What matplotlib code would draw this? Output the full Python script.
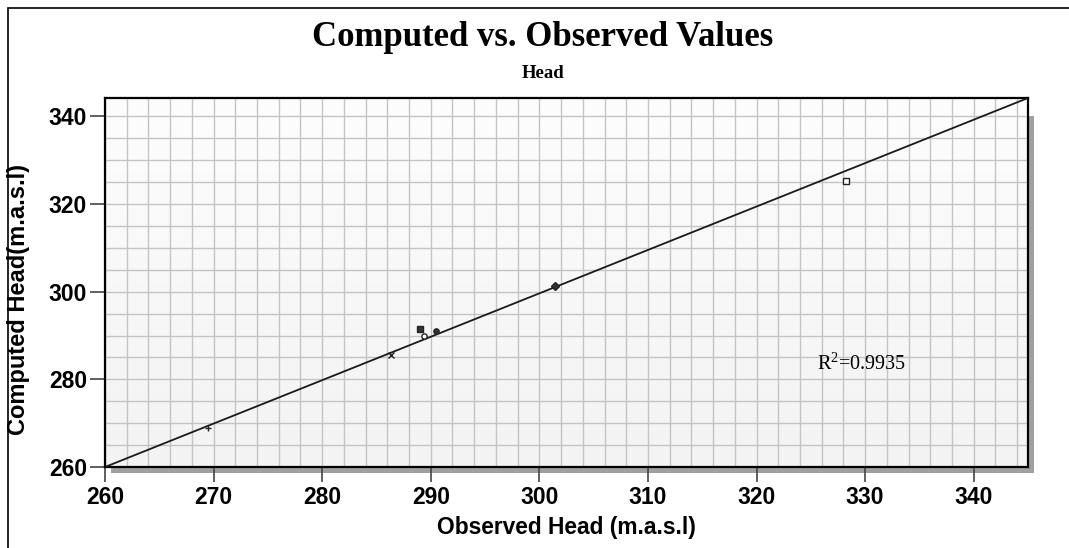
import numpy as np
import matplotlib
matplotlib.use("Agg")
import matplotlib.pyplot as plt
from matplotlib.patches import Rectangle

# observed vs computed heads (m.a.s.l)
observed = [269.5, 286.3, 289.4, 289.0, 290.5, 301.4, 328.2]
computed = [269.0, 285.6, 289.8, 291.4, 291.1, 301.2, 325.2]
markers = ["+", "x", "o", "s", "o", "D", "s"]
filled = [True, True, False, True, True, True, False]
r2 = 0.9935

xmin, xmax = 260, 345
ymin, ymax = 260, 344.2

plt.rcParams["mathtext.fontset"] = "custom"
plt.rcParams["mathtext.rm"] = "Liberation Serif"

fig = plt.figure(figsize=(10.69, 5.48), dpi=100)
fig.patch.set_facecolor("white")

# outer frame
fig.add_artist(Rectangle((8/1069, -0.01), 1.05, 1 - 8/548 + 0.01, transform=fig.transFigure,
                         fill=False, edgecolor="black", linewidth=1.2))

l, r = 105/1069, 1028/1069
b, t = 1 - 467/548, 1 - 98/548
ax = fig.add_axes([l, b, r - l, t - b])

# drop shadow
sx, sy = 6/1069, 6/548
fig.add_artist(Rectangle((l + sx, b - sy), r - l, t - b - 2*sy, transform=fig.transFigure,
                         facecolor="#a0a0a0", edgecolor="none", zorder=0))

# light gradient background
grad = np.linspace(0, 1, 256).reshape(-1, 1)
ax.imshow(grad, extent=[xmin, xmax, ymin, ymax], aspect="auto",
          cmap=matplotlib.colors.LinearSegmentedColormap.from_list("g", ["#f3f3f3", "#fdfdfd"]),
          origin="lower", zorder=0)

ax.set_xlim(xmin, xmax)
ax.set_ylim(ymin, ymax)
ax.set_xticks(np.arange(260, 341, 10))
ax.set_yticks(np.arange(260, 341, 20))
ax.set_xticks(np.arange(260, 346, 2), minor=True)
ax.set_yticks(np.arange(260, 345, 5), minor=True)
ax.grid(which="both", color="#c4c4c4", linewidth=1, zorder=1)
ax.set_axisbelow(True)
ax.tick_params(which="minor", length=0)
ax.tick_params(which="major", length=11, width=1.2, color="#444444")
ax.tick_params(axis="x", which="major", pad=3)
ax.tick_params(axis="y", which="major", pad=2)
for lab in ax.get_xticklabels() + ax.get_yticklabels():
    lab.set_fontfamily("Liberation Sans")
    lab.set_fontweight("bold")
    lab.set_fontsize(16.5)
for s in ax.spines.values():
    s.set_linewidth(1.6)

# fit line across the plot
ax.plot([xmin, xmax], [ymin, ymax], color="#1a1a1a", linewidth=1.3, zorder=3)

for xo, yc, m, f in zip(observed, computed, markers, filled):
    ax.plot(xo, yc, marker=m, markersize=3.8 if m not in ("+", "x") else 5,
            markerfacecolor="#333333" if f else "white", markeredgecolor="#222222",
            markeredgewidth=1, linestyle="none", zorder=4)

ax.text(325.6, 282.2, "R$^{2}$=%.4f" % r2, fontfamily="Liberation Serif", fontsize=14.5, zorder=5)

ax.set_xlabel("Observed Head (m.a.s.l)", fontfamily="Liberation Sans", fontweight="bold",
              fontsize=16.4, labelpad=5)
ax.set_ylabel("Computed Head(m.a.s.l)", fontfamily="Liberation Sans", fontweight="bold",
              fontsize=17)
ax.yaxis.set_label_coords(-0.0815, 0.453)

fig.text(0.508, 1 - 37/548, "Computed vs. Observed Values", ha="center", va="center",
         fontfamily="Liberation Serif", fontweight="bold", fontsize=25)
fig.text(0.508, 1 - 74/548, "Head", ha="center", va="center",
         fontfamily="Liberation Serif", fontweight="bold", fontsize=13.5)

fig.savefig("out.png", dpi=100)
